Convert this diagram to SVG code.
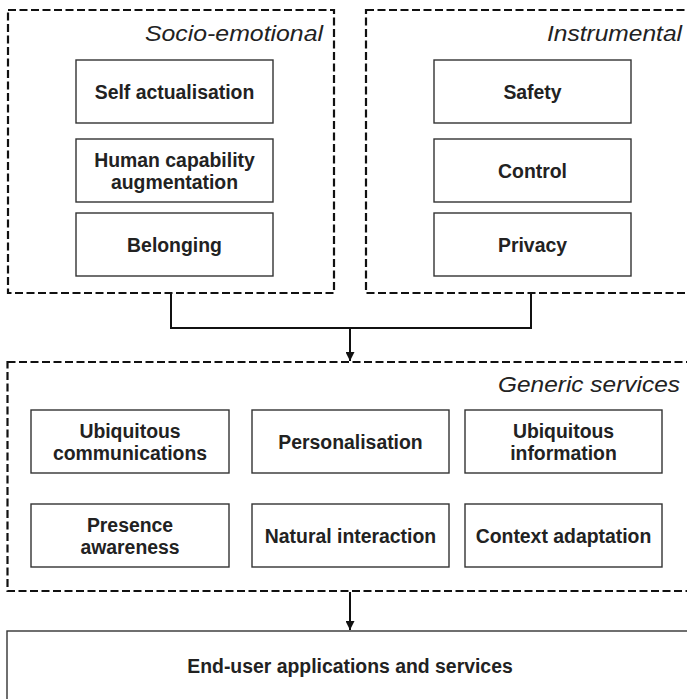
<svg xmlns="http://www.w3.org/2000/svg" width="687" height="699" viewBox="0 0 687 699">
  <style>
    .group { fill: none; stroke: #111111; stroke-width: 2.2; stroke-dasharray: 8 3.5; }
    .box { fill: #ffffff; stroke: #333333; stroke-width: 1.4; }
    .lbl { font-family: "Liberation Sans", Arial, sans-serif; font-weight: bold; font-size: 19.4px; fill: #222222; text-anchor: middle; }
    .title { font-family: "Liberation Sans", Arial, sans-serif; font-style: italic; font-size: 22px; fill: #222222; text-anchor: end; }
    .wire { fill: none; stroke: #111111; stroke-width: 2; }
  </style>
  <defs>
    <marker id="arrow" viewBox="0 0 10 10" refX="10" refY="5" markerWidth="4.5" markerHeight="4.5" markerUnits="strokeWidth" orient="auto">
      <path d="M0,0 L10,5 L0,10 Z" fill="#111111"/>
    </marker>
  </defs>
  <rect width="687" height="699" fill="#ffffff"/>

  <!-- Socio-emotional group -->
  <g id="socio-emotional">
    <rect class="group" x="8" y="10" width="326" height="283"/>
    <text class="title" x="323" y="41" textLength="178" lengthAdjust="spacingAndGlyphs">Socio-emotional</text>
  </g>
  <g id="self-actualisation">
    <rect class="box" x="76" y="60" width="197" height="63"/>
    <text class="lbl" x="174.5" y="98.5">Self actualisation</text>
  </g>
  <g id="human-capability">
    <rect class="box" x="76" y="139" width="197" height="63"/>
    <text class="lbl" x="174.5" y="166.5">Human capability</text>
    <text class="lbl" x="174.5" y="188.5">augmentation</text>
  </g>
  <g id="belonging">
    <rect class="box" x="76" y="213" width="197" height="63"/>
    <text class="lbl" x="174.5" y="252">Belonging</text>
  </g>

  <!-- Instrumental group -->
  <g id="instrumental">
    <rect class="group" x="366" y="10" width="340" height="283"/>
    <text class="title" x="682" y="41" textLength="135" lengthAdjust="spacingAndGlyphs">Instrumental</text>
  </g>
  <g id="safety">
    <rect class="box" x="434" y="60" width="197" height="63"/>
    <text class="lbl" x="532.5" y="98.5">Safety</text>
  </g>
  <g id="control">
    <rect class="box" x="434" y="139" width="197" height="63"/>
    <text class="lbl" x="532.5" y="177.5">Control</text>
  </g>
  <g id="privacy">
    <rect class="box" x="434" y="213" width="197" height="63"/>
    <text class="lbl" x="532.5" y="252">Privacy</text>
  </g>

  <!-- Generic services group -->
  <g id="generic-services">
    <rect class="group" x="7.5" y="362" width="700" height="229"/>
    <text class="title" x="680" y="392" textLength="182" lengthAdjust="spacingAndGlyphs">Generic services</text>
  </g>
  <g id="ubiquitous-communications">
    <rect class="box" x="31" y="410" width="198" height="63"/>
    <text class="lbl" x="130" y="437.5">Ubiquitous</text>
    <text class="lbl" x="130" y="459.5">communications</text>
  </g>
  <g id="personalisation">
    <rect class="box" x="252" y="410" width="197" height="63"/>
    <text class="lbl" x="350.5" y="448.5">Personalisation</text>
  </g>
  <g id="ubiquitous-information">
    <rect class="box" x="465" y="410" width="197" height="63"/>
    <text class="lbl" x="563.5" y="437.5">Ubiquitous</text>
    <text class="lbl" x="563.5" y="459.5">information</text>
  </g>
  <g id="presence-awareness">
    <rect class="box" x="31" y="504" width="198" height="63"/>
    <text class="lbl" x="130" y="531.5">Presence</text>
    <text class="lbl" x="130" y="553.5">awareness</text>
  </g>
  <g id="natural-interaction">
    <rect class="box" x="252" y="504" width="197" height="63"/>
    <text class="lbl" x="350.5" y="542.5">Natural interaction</text>
  </g>
  <g id="context-adaptation">
    <rect class="box" x="465" y="504" width="197" height="63"/>
    <text class="lbl" x="563.5" y="542.5">Context adaptation</text>
  </g>

  <!-- End-user layer -->
  <g id="end-user">
    <rect class="box" x="7" y="631" width="700" height="100"/>
    <text class="lbl" x="350" y="673">End-user applications and services</text>
  </g>

  <!-- Connectors -->
  <g id="connectors">
    <path class="wire" d="M171,293 V328 H531 V293"/>
    <path class="wire" d="M350,328 V361" marker-end="url(#arrow)"/>
    <path class="wire" d="M350,592 V630" marker-end="url(#arrow)"/>
  </g>
</svg>
